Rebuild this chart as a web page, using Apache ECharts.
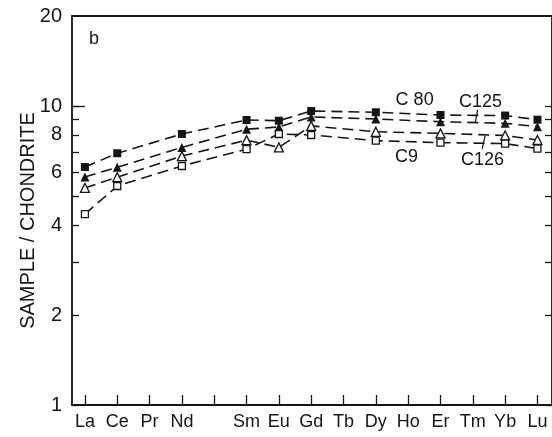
<!DOCTYPE html>
<html>
<head>
<meta charset="utf-8">
<script src="https://cdn.jsdelivr.net/npm/echarts@6/dist/echarts.min.js"></script>
<style>
  html, body { margin: 0; padding: 0; background: #fff; }
  #chart { width: 552px; height: 437px; }
</style>
</head>
<body>
<div id="chart"></div>
<script>
// Rare earth element order along the x axis (Pm left blank)
const elements = ['La', 'Ce', 'Pr', 'Nd', '', 'Sm', 'Eu', 'Gd', 'Tb', 'Dy', 'Ho', 'Er', 'Tm', 'Yb', 'Lu'];
// Elements analysed in each sample
const analysed = ['La', 'Ce', 'Nd', 'Sm', 'Eu', 'Gd', 'Dy', 'Er', 'Yb', 'Lu'];

// Chondrite-normalised abundances
const c80  = [6.25, 6.95, 8.06, 8.98, 8.93, 9.62, 9.53, 9.33, 9.29, 9.00];
const c125 = [5.79, 6.24, 7.27, 8.36, 8.51, 9.19, 9.05, 8.86, 8.75, 8.53];
const c126 = [5.32, 5.78, 6.80, 7.69, 7.27, 8.58, 8.20, 8.10, 7.97, 7.70];
const c9   = [4.35, 5.40, 6.30, 7.17, 8.06, 8.00, 7.66, 7.54, 7.49, 7.20];

// Axis ticks and labels
const yTicks = [1, 2, 3, 4, 5, 6, 7, 8, 9, 10];
const yLabels = [1, 2, 4, 6, 8, 10, 20];
const xTicks = elements.map((_, i) => i);

const ink = '#151515';
const font = 'Liberation Sans';

const toPairs = vals => analysed.map((el, i) => [elements.indexOf(el), vals[i]]);

function sample(name, vals, symbol, size, filled) {
  return {
    type: 'line',
    name,
    data: toPairs(vals),
    xAxisIndex: 0,
    yAxisIndex: 0,
    symbol,
    symbolSize: size,
    showSymbol: true,
    lineStyle: { color: ink, width: 1.6, type: [11, 6] },
    itemStyle: {
      color: filled ? ink : '#fff',
      borderColor: ink,
      borderWidth: filled ? 0 : 1.3,
      opacity: 1
    },
    emphasis: { disabled: true },
    z: 3
  };
}

const X_MIN = -0.4, X_MAX = 14.45;
const gridRect = { left: 72, top: 16, width: 481, height: 389 };

const chart = echarts.init(document.getElementById('chart'), null, { renderer: 'canvas' });

chart.setOption({
  animation: false,
  backgroundColor: '#fff',
  textStyle: { fontFamily: font, color: ink },
  grid: [
    Object.assign({ containLabel: false }, gridRect),
    Object.assign({ containLabel: false }, gridRect)
  ],
  xAxis: [
    {
      type: 'value', gridIndex: 0, position: 'bottom',
      min: X_MIN, max: X_MAX,
      axisLine: { show: true, onZero: false, lineStyle: { color: ink, width: 1.8 } },
      axisTick: { show: true, inside: true, length: 10, customValues: xTicks, lineStyle: { color: ink, width: 1.3 } },
      axisLabel: {
        show: true, customValues: xTicks, margin: 8,
        formatter: v => elements[Math.round(v)] || '',
        fontSize: 18, fontFamily: font, color: ink
      },
      splitLine: { show: false }
    },
    {
      type: 'value', gridIndex: 0, position: 'top',
      min: X_MIN, max: X_MAX,
      axisLine: { show: true, onZero: false, lineStyle: { color: ink, width: 1.8 } },
      axisTick: { show: false }, axisLabel: { show: false }, splitLine: { show: false }
    },
    {
      type: 'value', gridIndex: 1, min: X_MIN, max: X_MAX, show: false
    }
  ],
  yAxis: [
    {
      type: 'log', logBase: 10, gridIndex: 0, position: 'left',
      min: 1, max: 20,
      name: 'SAMPLE / CHONDRITE', nameLocation: 'middle', nameGap: 34,
      nameMoveOverlap: false,
      nameTextStyle: { fontSize: 20, fontFamily: font, color: ink, padding: [0, 20, 0, 0] },
      axisLine: { show: true, onZero: false, lineStyle: { color: ink, width: 1.8 } },
      axisTick: { show: true, inside: true, length: 7, customValues: yTicks, lineStyle: { color: ink, width: 1.3 } },
      axisLabel: { show: true, customValues: yLabels, margin: 10, fontSize: 20, fontFamily: font, color: ink },
      splitLine: { show: false }
    },
    {
      type: 'log', logBase: 10, gridIndex: 0, position: 'right',
      min: 1, max: 20,
      axisLine: { show: true, onZero: false, lineStyle: { color: ink, width: 1.8 } },
      axisTick: { show: true, inside: true, length: 7, customValues: yTicks, lineStyle: { color: ink, width: 1.3 } },
      axisLabel: { show: false },
      splitLine: { show: false }
    },
    {
      // longer tick marking the decade
      type: 'log', logBase: 10, gridIndex: 1, position: 'left',
      min: 1, max: 20,
      axisLine: { show: false, onZero: false },
      axisTick: { show: true, inside: true, length: 13, customValues: [10], lineStyle: { color: ink, width: 1.3 } },
      axisLabel: { show: false },
      splitLine: { show: false }
    }
  ],
  graphic: [
    { type: 'text', left: 89, top: 30, style: { text: 'b', fontSize: 18, fontFamily: font, fill: ink } }
  ],
  series: [
    sample('C80', c80, 'rect', 8, true),
    sample('C125', c125, 'triangle', 9, true),
    sample('C126', c126, 'triangle', 9, false),
    sample('C9', c9, 'rect', 7, false),
    {
      type: 'scatter',
      name: 'sample names',
      xAxisIndex: 0, yAxisIndex: 0,
      symbolSize: 1,
      itemStyle: { color: '#fff', opacity: 1 },
      silent: true,
      label: {
        show: true, position: 'inside',
        formatter: p => p.data[2],
        fontSize: 18, fontFamily: font, color: ink
      },
      data: [
        [10.2, 10.47, 'C 80'],
        [12.24, 10.31, 'C125'],
        [9.95, 6.75, 'C9'],
        [12.3, 6.60, 'C126']
      ],
      markLine: {
        silent: true,
        symbol: 'none',
        label: { show: false },
        lineStyle: { color: ink, width: 1.2, type: 'solid', opacity: 1 },
        data: [
          [{ coord: [12.15, 9.70] }, { coord: [12.08, 8.85] }],
          [{ coord: [12.38, 7.95] }, { coord: [12.29, 7.18] }]
        ]
      },
      z: 4
    }
  ]
});
</script>
</body>
</html>
